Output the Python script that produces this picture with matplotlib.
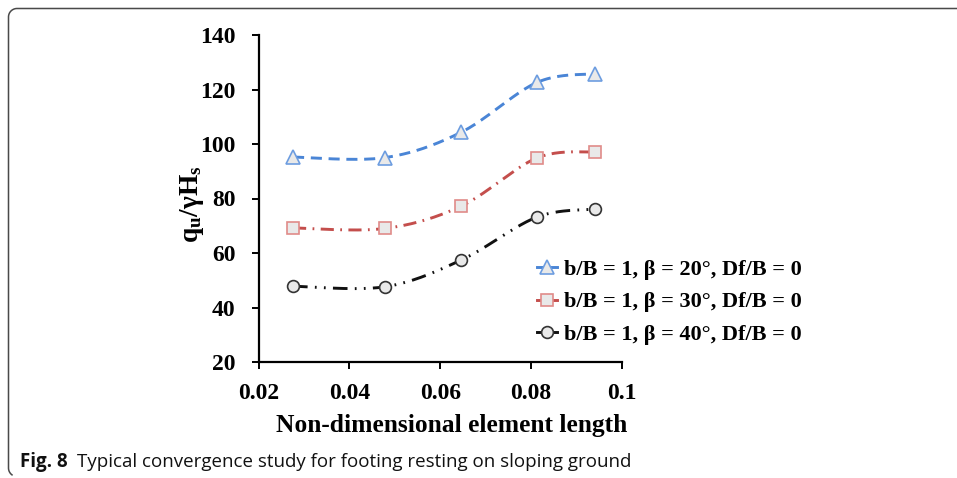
import matplotlib
matplotlib.use("Agg")
import matplotlib.pyplot as plt
from matplotlib.lines import Line2D
import numpy as np

# element length vs. normalised bearing capacity
element_length = [0.0276, 0.0478, 0.0646, 0.0813, 0.0941]
q_beta20 = [95.2, 95.0, 104.3, 122.6, 125.8]
q_beta30 = [69.2, 69.0, 77.2, 94.9, 97.1]
q_beta40 = [47.8, 47.6, 57.4, 73.2, 76.1]

labels = ["b/B = 1, β = 20°, Df/B = 0",
          "b/B = 1, β = 30°, Df/B = 0",
          "b/B = 1, β = 40°, Df/B = 0"]

x_ticks = [0.02, 0.04, 0.06, 0.08, 0.1]
x_ticklabels = ["0.02", "0.04", "0.06", "0.08", "0.1"]
y_ticks = [20, 40, 60, 80, 100, 120, 140]

W, H = 957, 478
SERIF = "Liberation Serif"

plt.rcParams["mathtext.fontset"] = "custom"
plt.rcParams["mathtext.rm"] = SERIF
plt.rcParams["mathtext.bf"] = SERIF + ":bold"
plt.rcParams["mathtext.it"] = SERIF + ":italic"


def smooth(xs, ys, n=40):
    # spreadsheet style smoothed line: cubic bezier per segment
    p = np.column_stack([xs, ys]).astype(float)
    ext = np.vstack([p[0], p, p[-1]])
    out = []
    t = np.linspace(0, 1, n)[:, None]
    for i in range(len(p) - 1):
        p0, p1 = p[i], p[i + 1]
        c1 = p0 + (ext[i + 2] - ext[i]) / 6
        c2 = p1 - (ext[i + 3] - ext[i + 1]) / 6
        seg = ((1 - t) ** 3) * p0 + 3 * ((1 - t) ** 2) * t * c1 \
            + 3 * (1 - t) * t ** 2 * c2 + t ** 3 * p1
        out.append(seg if i == 0 else seg[1:])
    out = np.vstack(out)
    return out[:, 0], out[:, 1]


fig = plt.figure(figsize=(W / 100, H / 100), dpi=100)
ax = fig.add_axes([258.5 / W, 1 - 362 / H, (622 - 258.5) / W, (362 - 35) / H])

series = [
    (q_beta20, "#4a85d6", "#6d9de0", "^", 10, (0, (3.8, 2.3))),
    (q_beta30, "#c44e4c", "#e08b89", "s", 8, (0, (4.5, 2.2, 0.6, 2.2))),
    (q_beta40, "#111111", "#333333", "o", 8.5, (0, (5, 2.5, 0.6, 2.5, 0.6, 2.5))),
]

handles = []
for (ys, lc, mc, mk, ms, ls), lab in zip(series, labels):
    sx, sy = smooth(element_length, ys)
    ax.plot(sx, sy, color=lc, lw=2.1, linestyle=ls, zorder=2)
    ax.plot(element_length, ys, linestyle="none", marker=mk, ms=ms,
            mfc="#e9e9e9", mec=mc, mew=1.2, zorder=3)
    handles.append(Line2D([], [], color=lc, lw=2.1, marker=mk, ms=ms,
                          mfc="#e9e9e9", mec=mc, mew=1.2, label=lab))

ax.set_xlim(0.02, 0.1)
ax.set_ylim(20, 140)
ax.set_xticks(x_ticks)
ax.set_xticklabels(x_ticklabels)
ax.set_yticks(y_ticks)

for side in ["top", "right"]:
    ax.spines[side].set_visible(False)
for side in ["left", "bottom"]:
    ax.spines[side].set_linewidth(1.6)
ax.tick_params(axis="both", direction="out", length=5, width=1.4,
               labelsize=17)
ax.tick_params(axis="y", pad=11.5)
ax.tick_params(axis="x", pad=10)
for lbl in ax.get_xticklabels() + ax.get_yticklabels():
    lbl.set_fontfamily(SERIF)
    lbl.set_fontweight("bold")

ax.set_xlabel("Non-dimensional element length", family=SERIF,
              fontweight="bold", fontsize=18.4)
ax.xaxis.set_label_coords(0.532, -0.158)
ax.set_ylabel(r"$\mathbf{q_{u}/\gamma H_{s}}$", fontsize=19.7)
ax.yaxis.set_label_coords(-0.144, 0.483)

fig.legend(handles=handles, loc="upper left",
           bbox_to_anchor=(517 / W, 1 - 239 / H), frameon=False,
           handlelength=0.9, handletextpad=0.3, labelspacing=0.55,
           prop={"family": SERIF, "weight": "bold", "size": 16})

# caption
cap_y = 1 - 467 / H
t1 = fig.text(20 / W, cap_y, "Fig. 8", family="Open Sans", fontweight="bold",
              fontsize=13.5, va="baseline", color="#111111")
r = fig.canvas.get_renderer()
bb = t1.get_window_extent(renderer=r)
fig.text(bb.x1 / W + 9 / W, cap_y,
         "Typical convergence study for footing resting on sloping ground",
         family="Open Sans", fontsize=13.5, va="baseline", color="#111111")

# rounded frame round the panel
rad = 8.5
a1 = np.linspace(np.pi / 2, np.pi, 20)
a2 = np.linspace(np.pi, 1.3 * np.pi, 12)
px = np.concatenate([[W], 8.5 + rad + rad * np.cos(a1), 8.5 + rad + rad * np.cos(a2)])
py = np.concatenate([[8.5], 8.5 + rad - rad * np.sin(a1), 468 - rad * np.sin(a2)])
fig.add_artist(Line2D(px / W, 1 - py / H, color="#4a4a4a", lw=1.1,
                      transform=fig.transFigure))

fig.savefig("out.png", dpi=100)
